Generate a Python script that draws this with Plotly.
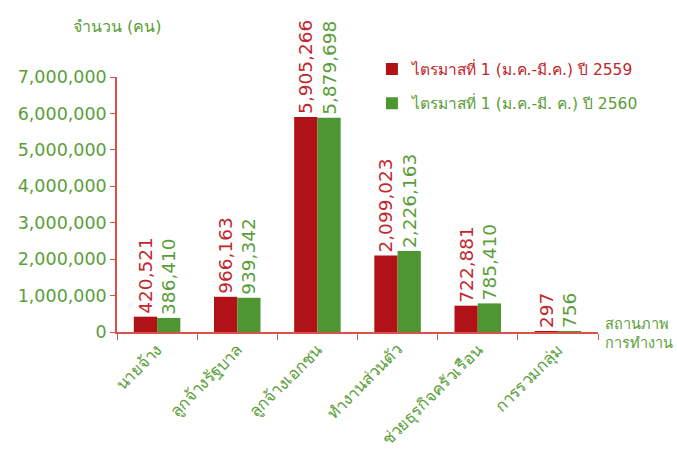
import plotly.graph_objects as go

categories = ["นายจ้าง", "ลูกจ้างรัฐบาล", "ลูกจ้างเอกชน", "ทำงานส่วนตัว", "ช่วยธุรกิจครัวเรือน", "การรวมกลุ่ม"]
values_2559 = [420521, 966163, 5905266, 2099023, 722881, 297]
values_2560 = [386410, 939342, 5879698, 2226163, 785410, 756]
series_names = ["ไตรมาสที่ 1 (ม.ค.-มี.ค.) ปี 2559", "ไตรมาสที่ 1 (ม.ค.-มี. ค.) ปี 2560"]
y_ticks = [0, 1000000, 2000000, 3000000, 4000000, 5000000, 6000000, 7000000]
y_title = "จำนวน (คน)"
x_title = "สถานภาพ<br>การทำงาน"

RED = "#B11218"
GREEN = "#4E9632"
RED_TXT = "#C4262C"
GREEN_TXT = "#5A9E3A"
AXIS = "#D9534A"
FONT = "DejaVu Sans, Noto Sans, sans-serif"

fig = go.Figure()
for vals, name, col, tcol, grp in [(values_2559, series_names[0], RED, RED_TXT, "a"),
                                    (values_2560, series_names[1], GREEN, GREEN_TXT, "b")]:
    fig.add_trace(go.Bar(
        x=categories, y=vals, name=f"<span style='color:{tcol}'>{name}</span>",
        marker=dict(color=col, line=dict(width=0)),
        text=[f"{v:,}" for v in vals], textposition="outside", textangle=-90,
        textfont=dict(color=tcol, size=18.5, family=FONT),
        cliponaxis=False, constraintext="none", legendgroup=grp,
    ))

fig.update_layout(
    width=677, height=450,
    margin=dict(l=117, r=79, t=77, b=118, autoexpand=False),
    paper_bgcolor="white", plot_bgcolor="white",
    barmode="group", bargap=0.42, bargroupgap=0,
    font=dict(family=FONT, color=GREEN_TXT),
    showlegend=True,
    legend=dict(x=0.53, y=1.096, xanchor="left", yanchor="top",
                font=dict(size=15.5, family=FONT), bgcolor="rgba(0,0,0,0)",
                tracegroupgap=11, traceorder="grouped"),
    xaxis=dict(showline=True, linecolor=AXIS, linewidth=1.5, ticks="outside",
               tickson="boundaries", tickcolor=AXIS, ticklen=6, tickangle=-45,
               tickfont=dict(size=16.5, color=GREEN_TXT, family=FONT), showgrid=False,
               automargin=False),
    yaxis=dict(range=[0, 7000000], tickvals=y_ticks, ticktext=[f"{v:,}" for v in y_ticks],
               showline=True, linecolor=AXIS, linewidth=1.5, ticks="outside",
               tickcolor=AXIS, ticklen=5, showgrid=False, zeroline=False,
               tickfont=dict(size=17.5, color=GREEN_TXT, family=FONT), automargin=False),
    annotations=[
        dict(text=y_title, xref="paper", yref="paper", x=0.0, y=1.2, xanchor="center",
             yanchor="middle", showarrow=False, font=dict(size=16, color=GREEN_TXT, family=FONT)),
        dict(text=x_title, xref="paper", yref="paper", x=1.01, y=0.07, xanchor="left",
             yanchor="top", align="left", showarrow=False,
             font=dict(size=14.5, color=GREEN_TXT, family=FONT)),
    ],
)

fig.write_html("out.html", config={"displayModeBar": False},
               post_script="document.body.style.margin='0';document.body.style.padding='0';")
